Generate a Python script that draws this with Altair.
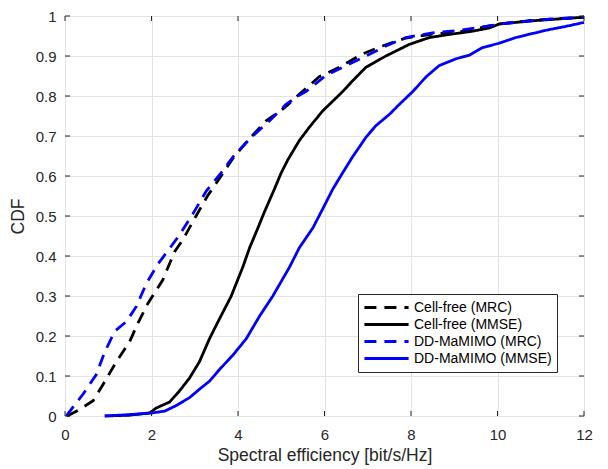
import altair as alt
import pandas as pd

series_names = ["Cell-free (MRC)", "Cell-free (MMSE)", "DD-MaMIMO (MRC)", "DD-MaMIMO (MMSE)"]
series_colors = ["#000000", "#000000", "#0000ff", "#0000ff"]
series_dash = [[12, 8], [1, 0], [12, 8], [1, 0]]

cf_mrc_x = [0.05, 0.3, 0.65, 0.88, 1.19, 1.49, 1.69, 1.92, 2.26, 2.53, 2.72, 3.03, 3.30, 3.61, 3.88, 4.23, 4.65, 5.07, 5.42, 5.88, 6.34, 6.88, 7.34, 7.88, 8.5, 9.04, 9.58, 10.04, 10.8, 11.5, 12.0]
cf_mrc_y = [0.0, 0.014, 0.038, 0.079, 0.136, 0.185, 0.233, 0.282, 0.34, 0.41, 0.44, 0.50, 0.551, 0.60, 0.644, 0.689, 0.738, 0.77, 0.805, 0.848, 0.872, 0.905, 0.925, 0.945, 0.955, 0.959, 0.97, 0.98, 0.989, 0.994, 0.997]

cf_mmse_x = [0.92, 1.5, 1.96, 2.11, 2.42, 2.65, 2.88, 3.11, 3.34, 3.53, 3.84, 4.11, 4.27, 4.46, 4.61, 4.84, 5.0, 5.15, 5.42, 5.65, 5.96, 6.19, 6.42, 6.65, 6.96, 7.42, 7.96, 8.42, 8.89, 9.42, 9.81, 10.04, 10.8, 12.0]
cf_mmse_y = [0.0, 0.002, 0.008, 0.02, 0.035, 0.063, 0.095, 0.136, 0.193, 0.234, 0.299, 0.372, 0.421, 0.47, 0.51, 0.567, 0.608, 0.64, 0.689, 0.722, 0.763, 0.787, 0.811, 0.838, 0.872, 0.90, 0.929, 0.946, 0.954, 0.962, 0.97, 0.98, 0.988, 0.997]

dd_mrc_x = [0.03, 0.07, 0.42, 0.72, 0.92, 1.15, 1.42, 1.65, 1.88, 2.15, 2.46, 2.65, 2.96, 3.27, 3.61, 3.92, 4.34, 4.73, 5.11, 5.38, 5.57, 6.04, 6.42, 6.96, 7.42, 7.88, 8.5, 9.12, 9.73, 10.2, 11.2, 12.0]
dd_mrc_y = [0.0, 0.006, 0.055, 0.103, 0.16, 0.212, 0.236, 0.274, 0.331, 0.38, 0.425, 0.453, 0.506, 0.563, 0.608, 0.653, 0.70, 0.738, 0.779, 0.80, 0.811, 0.852, 0.872, 0.90, 0.925, 0.946, 0.958, 0.964, 0.974, 0.982, 0.992, 0.997]

dd_mmse_x = [0.92, 1.57, 1.96, 2.30, 2.57, 2.88, 3.11, 3.34, 3.57, 3.88, 4.19, 4.50, 4.80, 5.19, 5.42, 5.73, 5.96, 6.19, 6.42, 6.65, 6.96, 7.19, 7.50, 7.73, 8.04, 8.35, 8.65, 9.04, 9.35, 9.65, 10.04, 10.42, 10.8, 11.19, 11.58, 12.0]
dd_mmse_y = [0.0, 0.004, 0.007, 0.012, 0.026, 0.046, 0.067, 0.087, 0.116, 0.152, 0.193, 0.25, 0.299, 0.372, 0.421, 0.47, 0.518, 0.567, 0.608, 0.648, 0.697, 0.726, 0.754, 0.779, 0.811, 0.848, 0.876, 0.893, 0.902, 0.921, 0.932, 0.946, 0.956, 0.966, 0.974, 0.984]

x_ticks = [0, 2, 4, 6, 8, 10, 12]
y_ticks = [0, 0.1, 0.2, 0.3, 0.4, 0.5, 0.6, 0.7, 0.8, 0.9, 1.0]

xs = [cf_mrc_x, cf_mmse_x, dd_mrc_x, dd_mmse_x]
ys = [cf_mrc_y, cf_mmse_y, dd_mrc_y, dd_mmse_y]
rows = []
for name, sx, sy in zip(series_names, xs, ys):
    for i, (a, b) in enumerate(zip(sx, sy)):
        rows.append({"series": name, "x": a, "y": b, "idx": i})
df = pd.DataFrame(rows)

W, H = 519, 400
FONT = "Liberation Sans"
AX = "#262626"

xscale = alt.Scale(domain=[0, 12], nice=False, zero=False)
yscale = alt.Scale(domain=[0, 1], nice=False, zero=False)

color_enc = alt.Color(
    "series:N",
    scale=alt.Scale(domain=series_names, range=series_colors),
    legend=alt.Legend(
        title=None, orient="none", legendX=293, legendY=278,
        fillColor="white", strokeColor=AX, padding=5,
        symbolType="stroke", symbolSize=1950, symbolStrokeWidth=2.8,
        labelFont=FONT, labelFontSize=14, labelColor="#000000",
        labelOffset=4, rowPadding=0, clipHeight=17,
    ),
)
dash_enc = alt.StrokeDash(
    "series:N",
    scale=alt.Scale(domain=series_names, range=series_dash),
    legend=alt.Legend(title=None),
)

x_axis = alt.Axis(values=x_ticks, title="Spectral efficiency [bit/s/Hz]", grid=True,
                  gridColor="#e3e3e3", domain=False, ticks=False, labelPadding=11,
                  labelFlush=False, labelOverlap=False,
                  labelFont=FONT, labelFontSize=15, labelColor=AX,
                  titleFont=FONT, titleFontSize=17.5, titleFontWeight="normal",
                  titleColor=AX, titlePadding=4)
y_axis = alt.Axis(values=y_ticks, format="~g", title="CDF", grid=True,
                  gridColor="#e3e3e3", domain=False, ticks=False, labelPadding=9,
                  labelFlush=False, labelOverlap=False,
                  labelFont=FONT, labelFontSize=15, labelColor=AX,
                  titleFont=FONT, titleFontSize=17.5, titleFontWeight="normal",
                  titleColor=AX, titlePadding=8)

layers = []
for name in series_names:
    layers.append(
        alt.Chart(df).transform_filter(alt.datum.series == name)
        .mark_line(strokeWidth=2.8, strokeCap="butt")
        .encode(x=alt.X("x:Q", scale=xscale, axis=x_axis),
                y=alt.Y("y:Q", scale=yscale, axis=y_axis),
                color=color_enc, strokeDash=dash_enc,
                order=alt.Order("idx:Q"))
    )

xt = pd.DataFrame({"t": x_ticks})
yt = pd.DataFrame({"t": y_ticks})
tick_len = 5
tx_bottom = alt.Chart(xt).mark_rule(color=AX, strokeWidth=1).encode(
    x=alt.X("t:Q", scale=xscale, axis=x_axis), y=alt.value(H), y2=alt.value(H - tick_len))
tx_top = alt.Chart(xt).mark_rule(color=AX, strokeWidth=1).encode(
    x=alt.X("t:Q", scale=xscale, axis=x_axis), y=alt.value(0), y2=alt.value(tick_len))
ty_left = alt.Chart(yt).mark_rule(color=AX, strokeWidth=1).encode(
    y=alt.Y("t:Q", scale=yscale, axis=y_axis), x=alt.value(0), x2=alt.value(tick_len))
ty_right = alt.Chart(yt).mark_rule(color=AX, strokeWidth=1).encode(
    y=alt.Y("t:Q", scale=yscale, axis=y_axis), x=alt.value(W), x2=alt.value(W - tick_len))

chart = alt.layer(*layers, tx_bottom, tx_top, ty_left, ty_right).properties(
    width=W, height=H,
    autosize=alt.AutoSizeParams(type="none"),
    padding={"left": 57, "top": 8, "right": 16, "bottom": 60},
).configure_view(stroke=AX, strokeWidth=1).configure_legend(
    strokeWidth=1, cornerRadius=0
).configure(background="white")

chart.save("out.html", embed_options={"renderer": "svg", "actions": False})
